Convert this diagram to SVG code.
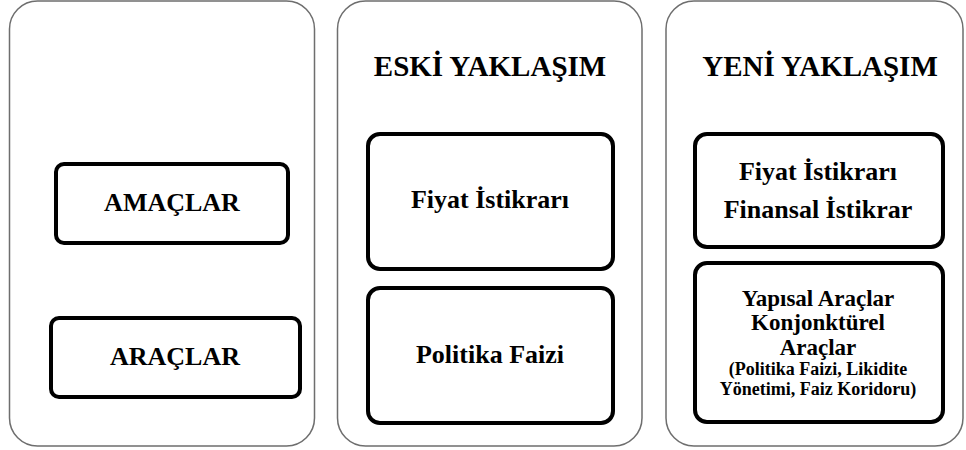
<svg xmlns="http://www.w3.org/2000/svg" width="966" height="450" viewBox="0 0 966 450">
  <style>
    .panel { fill: #ffffff; stroke: #6e6e6e; stroke-width: 1.5; }
    .box { fill: #ffffff; stroke: #000000; stroke-width: 4; }
    text { font-family: "Liberation Serif", "Times New Roman", serif; font-weight: bold; fill: #000000; text-anchor: middle; }
    .title { font-size: 29px; }
    .lbl { font-size: 26px; }
    .mid { font-size: 23px; }
    .small { font-size: 18px; }
  </style>
  <rect width="966" height="450" fill="#ffffff"/>

  <!-- left column: row headings -->
  <g id="col-labels">
    <rect class="panel" x="9.5" y="1" width="305" height="445" rx="28" ry="28"/>
  </g>
  <g id="amaclar">
    <rect class="box" x="56" y="164" width="232" height="79" rx="8" ry="8"/>
    <text class="lbl" x="172" y="211">AMAÇLAR</text>
  </g>
  <g id="araclar">
    <rect class="box" x="51" y="318" width="249" height="79" rx="8" ry="8"/>
    <text class="lbl" x="175" y="365">ARAÇLAR</text>
  </g>

  <!-- middle column: old approach -->
  <g id="eski">
    <rect class="panel" x="337.5" y="1" width="304.5" height="445" rx="28" ry="28"/>
    <text class="title" x="490" y="76">ESKİ YAKLAŞIM</text>
  </g>
  <g id="eski-amac">
    <rect class="box" x="368" y="134" width="245" height="135" rx="12" ry="12"/>
    <text class="lbl" x="490" y="208">Fiyat İstikrarı</text>
  </g>
  <g id="eski-arac">
    <rect class="box" x="368" y="288" width="245" height="135" rx="12" ry="12"/>
    <text class="lbl" x="490" y="363">Politika Faizi</text>
  </g>

  <!-- right column: new approach -->
  <g id="yeni">
    <rect class="panel" x="666" y="1" width="297" height="445" rx="28" ry="28"/>
    <text class="title" x="820" y="76">YENİ YAKLAŞIM</text>
  </g>
  <g id="yeni-amac">
    <rect class="box" x="695" y="134" width="248" height="113" rx="12" ry="12"/>
    <text class="lbl" x="818" y="180">Fiyat İstikrarı</text>
    <text class="lbl" x="818" y="218">Finansal İstikrar</text>
  </g>
  <g id="yeni-arac">
    <rect class="box" x="695" y="263" width="248" height="159" rx="12" ry="12"/>
    <text class="mid" x="818" y="306">Yapısal Araçlar</text>
    <text class="mid" x="818" y="330">Konjonktürel</text>
    <text class="mid" x="818" y="355">Araçlar</text>
    <text class="small" x="818" y="375">(Politika Faizi, Likidite</text>
    <text class="small" x="818" y="395">Yönetimi, Faiz Koridoru)</text>
  </g>
</svg>
